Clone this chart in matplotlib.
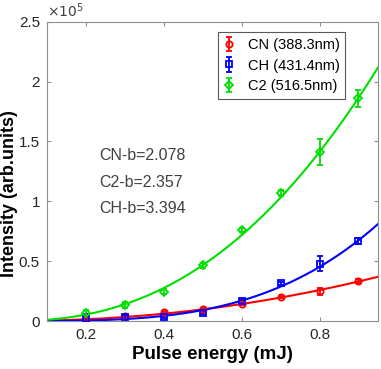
import numpy as np
import matplotlib
matplotlib.use('Agg')
import matplotlib.pyplot as plt

plt.rcParams['font.family'] = ['Liberation Sans', 'DejaVu Sans']

# pulse energy (mJ)
energy = [0.2, 0.3, 0.4, 0.5, 0.6, 0.7, 0.8, 0.9]

# intensity, in units of 1e5
cn = [0.01, 0.04, 0.075, 0.10, 0.14, 0.20, 0.25, 0.335]
cn_err = [0.01, 0.01, 0.012, 0.01, 0.01, 0.01, 0.03, 0.015]
ch = [0.02, 0.035, 0.036, 0.07, 0.17, 0.315, 0.48, 0.665]
ch_err = [0.04, 0.015, 0.012, 0.01, 0.01, 0.01, 0.06, 0.025]
c2 = [0.065, 0.13, 0.245, 0.465, 0.76, 1.07, 1.41, 1.86]
c2_err = [0.03, 0.025, 0.02, 0.02, 0.02, 0.025, 0.11, 0.07]

# power-law fit y = a * x^b
fit_a = {'CN': 0.411, 'CH': 0.964, 'C2': 2.39}
fit_b = {'CN': 2.078, 'CH': 3.394, 'C2': 2.357}

labels = ['CN (388.3nm)', 'CH (431.4nm)', 'C2 (516.5nm)']
colors = ['#ff0000', '#0000ff', '#00e000']
markers = ['o', 's', 'D']

fig = plt.figure(figsize=(3.81, 3.69), dpi=100)
ax = fig.add_axes([0.123, 0.130, 0.869, 0.811])

xs = np.linspace(0.1, 0.95, 200)
series = [('CN', cn, cn_err), ('CH', ch, ch_err), ('C2', c2, c2_err)]
for (name, y, e), lab, c, m in zip(series, labels, colors, markers):
    ax.errorbar(energy, y, yerr=e, fmt=m, color=c, mfc='none', mec=c, ms=4.5 if m != 'D' else 4,
                mew=1.3, capsize=2.5, elinewidth=1.3, capthick=1.3, label=lab, zorder=3)
    ax.plot(xs, fit_a[name] * xs ** fit_b[name], color=c, lw=1.5, zorder=2)

ax.set_xlim(0.1, 0.95)
ax.set_ylim(0, 2.5)
ax.set_xticks([0.2, 0.4, 0.6, 0.8])
ax.set_yticks([0, 0.5, 1, 1.5, 2, 2.5])
ax.set_yticklabels(['0', '0.5', '1', '1.5', '2', '2.5'])
ax.tick_params(direction='in', top=True, right=True, length=3, color='#909090',
               labelsize=11, labelcolor='#262626', pad=5)
for s in ax.spines.values():
    s.set_color('#909090')
    s.set_linewidth(0.8)

ax.text(0.0, 1.005, r'$\times10^5$', transform=ax.transAxes, fontsize=10,
        color='#404040', va='bottom', ha='left')

ax.set_xlabel('Pulse energy (mJ)', fontsize=13.5, fontweight='bold', labelpad=3)
ax.set_ylabel('Intensity (arb.units)', fontsize=13, fontweight='bold')
ax.yaxis.set_label_coords(-0.088, 0.425)

txt_y = [1.38, 1.16, 0.94]
for s, ty in zip(['CN-b=2.078', 'C2-b=2.357', 'CH-b=3.394'], txt_y):
    ax.text(0.235, ty, s, fontsize=11.5, color='#404040', va='center')

leg = ax.legend(loc='upper right', bbox_to_anchor=(0.91, 0.975), fontsize=10.5,
                frameon=True, fancybox=False, edgecolor='#303030', handlelength=0.6,
                handletextpad=1.0, borderpad=0.4, labelspacing=0.45, borderaxespad=0.2)
leg.get_frame().set_linewidth(0.8)

fig.savefig('out.png', dpi=100)
